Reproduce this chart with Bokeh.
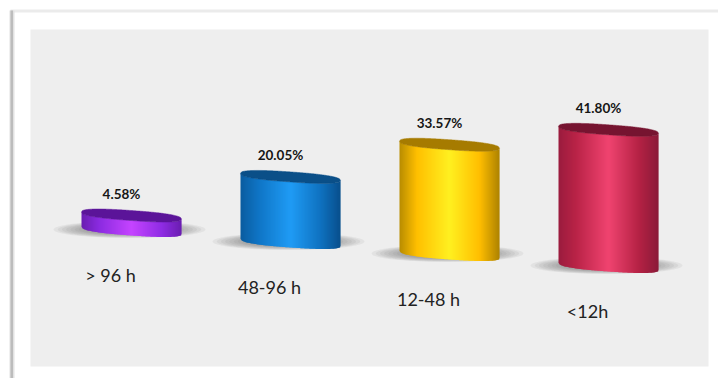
from bokeh.embed import file_html
from bokeh.models import Range1d
from bokeh.plotting import figure
from bokeh.resources import INLINE
from bokeh.core.properties import value
import numpy as np

categories = ["> 96 h", "48-96 h", "12-48 h", "<12h"]
percentages = [4.58, 20.05, 33.57, 41.80]
value_labels = ["4.58%", "20.05%", "33.57%", "41.80%"]

# Cylinder shading: edge, mid-tone, highlight, mid-tone, edge, then the lid colour
shades = [
    ["#6a1db0", "#8a2be0", "#c544ff", "#8f2ce4", "#6a1db0", "#5b1499"],
    ["#0a5c9f", "#0f74c4", "#1f9bf5", "#0f72c0", "#084f8c", "#0a4f88"],
    ["#b88c00", "#ffbf00", "#fff020", "#ffbe00", "#ad8200", "#a67b00"],
    ["#9a1c3e", "#b92347", "#f04470", "#b52245", "#8a1a38", "#761430"],
]
shade_stops = [-1, -0.65, 0, 0.6, 1]

W, H = 718, 378
STEP = 159.0      # pixels between neighbouring cylinders
K = 3.27          # pixels per percentage point
HALF = 50.0       # cylinder half width, pixels
LID = 5.0         # lid half height, pixels
TILT = 3.5        # drop from the left to the centre of each ellipse, pixels
RISE = 12.0       # pixels the floor drops per category
X0, Y0 = 131.0, 230.0


def dx(px):
    return (px - X0) / STEP


def dy(px):
    return (Y0 - px) / K


def hex_rgb(c):
    return np.array([int(c[i:i + 2], 16) for i in (1, 3, 5)], float)


def to_hex(rgb):
    return "#%02x%02x%02x" % tuple(int(round(v)) for v in rgb)


def ramp(stops, u):
    rgb = [np.interp(u, shade_stops, [hex_rgb(s)[k] for s in stops]) for k in range(3)]
    return to_hex(rgb)


def bulge(u):
    # squarish ellipse profile that gives the cylinders their soft corners
    return (1 - np.abs(u) ** 2.5) ** (1 / 2.5)


p = figure(width=W, height=H, output_backend="svg", toolbar_location=None,
           x_range=Range1d(dx(0), dx(W)), y_range=Range1d(dy(H), dy(0)),
           min_border=0, border_fill_color="white", background_fill_color="white",
           outline_line_color=None)
p.axis.visible = False
p.grid.visible = False

# Page frame and chart panel
p.quad(left=dx(30), right=dx(708), top=dy(29), bottom=dy(366), fill_color="#eeeeee", line_color=None)
p.quad(left=dx(10), right=dx(718), top=dy(9), bottom=dy(12), fill_color="#ebebeb", line_color=None)
p.quad(left=dx(9), right=dx(14), top=dy(10), bottom=dy(378), fill_color="#e2e2e2", line_color=None)
p.quad(left=dx(10), right=dx(12.5), top=dy(10), bottom=dy(378), fill_color="#bcbcbc", line_color=None)

# One strip per pixel of width, each overlapping the next so no seams show
u = np.linspace(-1, 1, 101)
mid = (u[:-1] + u[1:]) / 2
overlap = 0.7 / STEP

for i, (pct, stops) in enumerate(zip(percentages, shades)):
    floor = -i * RISE / K
    top = floor + pct

    # Soft shadow on the floor
    for f in np.linspace(1.0, 0.5, 10):
        p.ellipse(x=[i - 2 / STEP], y=[floor + 1.0 / K], width=152 * f / STEP, height=17 * f / K,
                  fill_color="#666666", fill_alpha=0.085, line_color=None)

    # Side wall
    xs, ys, colors = [], [], []
    for a, b, m in zip(u[:-1], u[1:], mid):
        x_a, x_b = i + a * HALF / STEP, i + b * HALF / STEP
        low_a = floor - (a * TILT + LID * bulge(a)) / K
        low_b = floor - (b * TILT + LID * bulge(b)) / K
        up_a = top - (a * TILT + LID * bulge(a)) / K
        up_b = top - (b * TILT + LID * bulge(b)) / K
        pad = overlap if b < 1 else 0
        xs.append([x_a, x_b + pad, x_b + pad, x_a])
        ys.append([low_a, low_b, up_b, up_a])
        colors.append(ramp(stops[:5], m))
    p.patches(xs, ys, fill_color=colors, line_color=None)

    # Lid
    lx = np.concatenate([u, u[::-1]])
    ly = np.concatenate([bulge(u), -bulge(u[::-1])])
    p.patch(i + lx * HALF / STEP, top - (lx * TILT - ly * LID) / K,
            fill_color=stops[5], line_color=stops[5], line_width=0.5)

    # Value label above the cylinder, category label below it
    p.text(x=[i - 10 / STEP], y=[top + 22 / K], text=[value_labels[i]], text_align="center",
           text_baseline="middle", text_font=value("Lato"), text_font_style="bold",
           text_font_size="13.5px", text_color="#161616")
    p.text(x=[i - 21 / STEP], y=[floor - 44 / K], text=[categories[i]], text_align="center",
           text_baseline="middle", text_font=value("Lato"), text_font_size="18px",
           text_color="#222222")

open("out.html", "w").write(file_html(p, INLINE))
